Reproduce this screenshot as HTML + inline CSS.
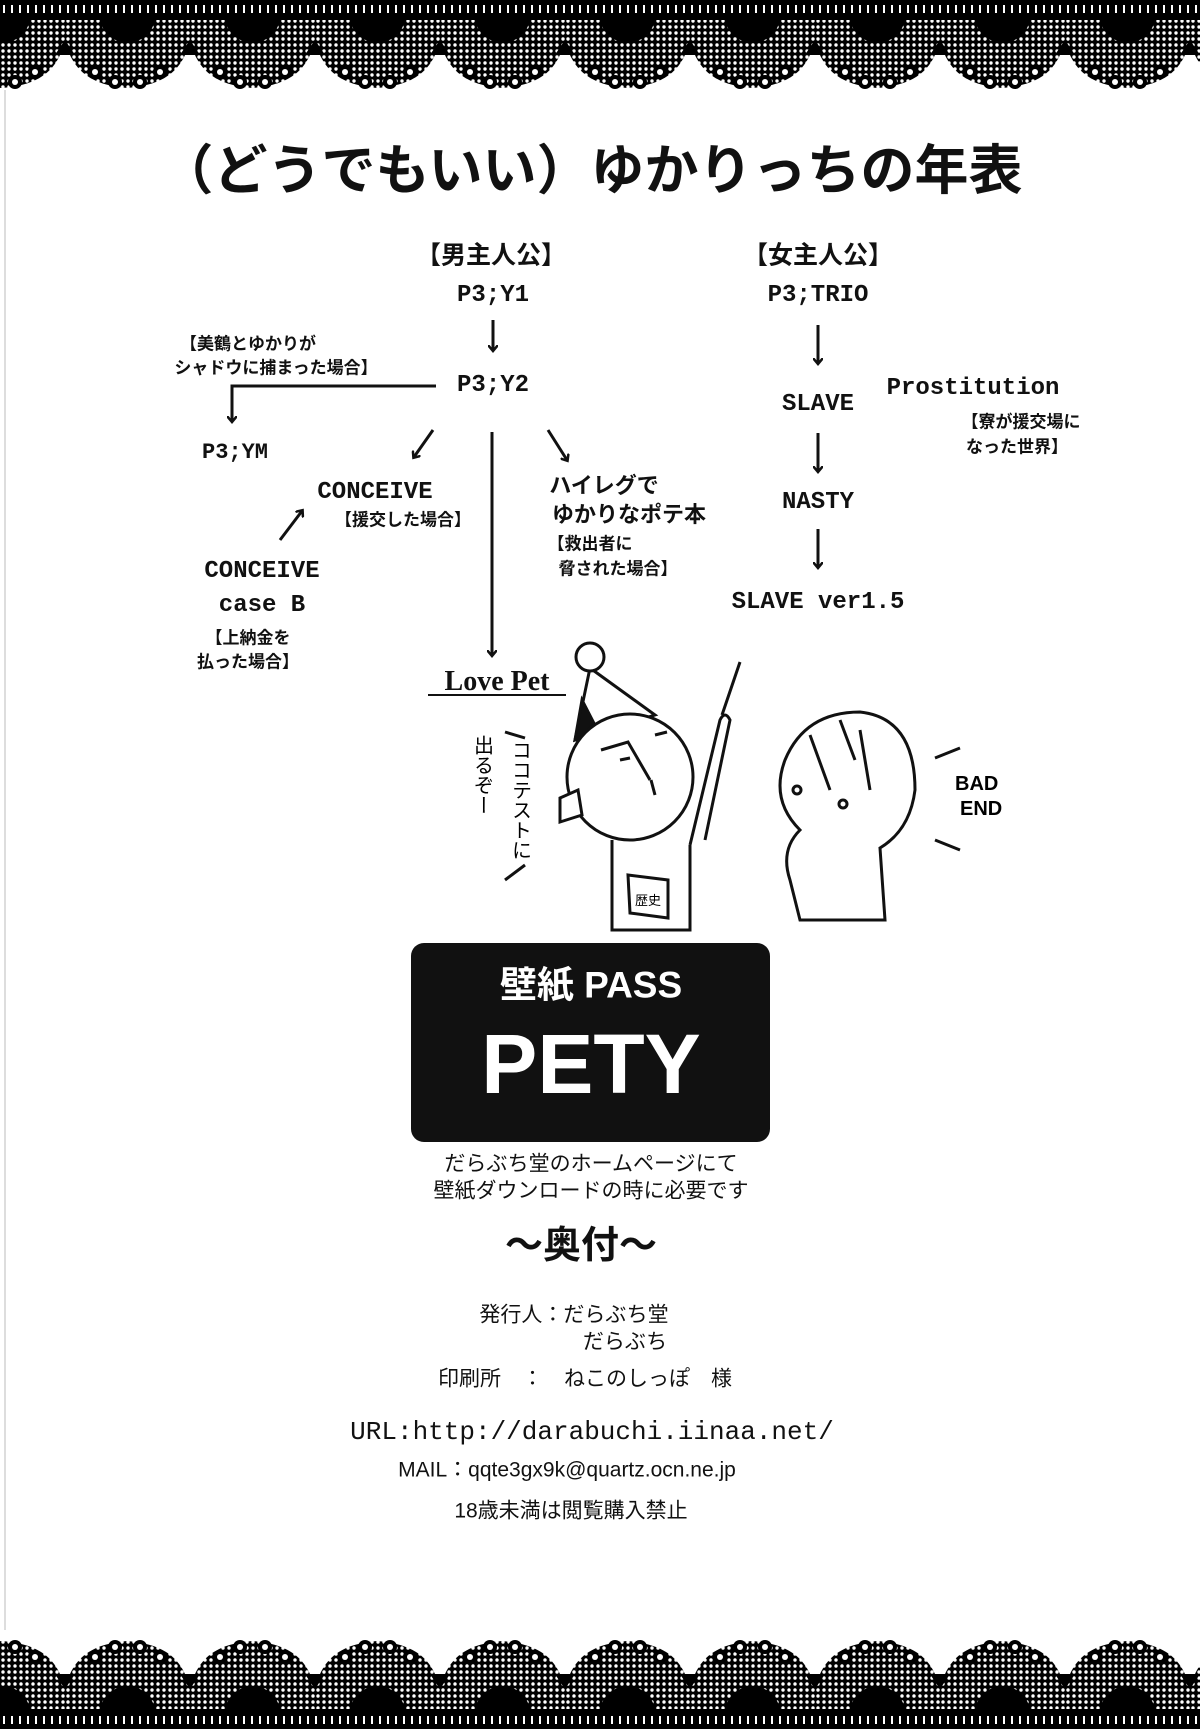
<!DOCTYPE html>
<html><head><meta charset="utf-8"><style>
body{margin:0;width:1200px;height:1729px;background:#fff;position:relative;overflow:hidden;font-family:"Liberation Serif","Noto Sans CJK JP",serif;color:#111}
.t{position:absolute;white-space:nowrap;transform:translate(-50%,-50%);line-height:1}
.b{font-weight:bold}
.s{font-family:"Liberation Sans","Noto Sans CJK JP",sans-serif}
svg{position:absolute;left:0;top:0}
</style></head><body>
<svg width="1200" height="1729" viewBox="0 0 1200 1729">
<defs>
<pattern id="dots" width="6" height="6" patternUnits="userSpaceOnUse"><rect width="6" height="6" fill="#000"/><circle cx="3" cy="3" r="1.7" fill="#fff"/></pattern>
<g id="sc">
<path d="M0,20 L125,20 L125,40 C118,70 100,85 62,88 C25,85 7,70 0,40 Z" fill="url(#dots)"/>
<path d="M35,20 A28,28 0 0 0 90,20 Z" fill="#000"/>
<circle cx="30" cy="72" r="7" fill="#000"/><circle cx="50" cy="82" r="7" fill="#000"/><circle cx="75" cy="82" r="7" fill="#000"/><circle cx="95" cy="72" r="7" fill="#000"/>
<circle cx="30" cy="72" r="3" fill="#fff"/><circle cx="50" cy="82" r="3" fill="#fff"/><circle cx="75" cy="82" r="3" fill="#fff"/><circle cx="95" cy="72" r="3" fill="#fff"/>
<path d="M0,40 L-10,55 L10,55 Z M125,40 L115,55 L135,55Z" fill="#000"/>
</g>
<pattern id="ticks" width="8" height="20" patternUnits="userSpaceOnUse"><rect width="8" height="20" fill="#000"/><rect x="3" y="5" width="2" height="8" fill="#fff"/></pattern>
<marker id="ah" markerWidth="10" markerHeight="10" refX="5" refY="5" orient="auto" markerUnits="userSpaceOnUse"><path d="M0,0 L6,5 L0,10" fill="none" stroke="#111" stroke-width="2.5"/></marker>
</defs>
<rect x="0" y="0" width="1200" height="20" fill="url(#ticks)"/>
<g><use href="#sc" x="-60"/><use href="#sc" x="65"/><use href="#sc" x="190"/><use href="#sc" x="315"/><use href="#sc" x="440"/><use href="#sc" x="565"/><use href="#sc" x="690"/><use href="#sc" x="815"/><use href="#sc" x="940"/><use href="#sc" x="1065"/><use href="#sc" x="1190"/></g>
<g transform="translate(0,1729) scale(1,-1)">
<rect x="0" y="0" width="1200" height="20" fill="url(#ticks)"/>
<use href="#sc" x="-60"/><use href="#sc" x="65"/><use href="#sc" x="190"/><use href="#sc" x="315"/><use href="#sc" x="440"/><use href="#sc" x="565"/><use href="#sc" x="690"/><use href="#sc" x="815"/><use href="#sc" x="940"/><use href="#sc" x="1065"/><use href="#sc" x="1190"/>
</g>
<line x1="5" y1="90" x2="5" y2="1630" stroke="#bbb" stroke-width="1"/>
<g stroke="#111" stroke-width="3" fill="none" marker-end="url(#ah)">
<line x1="493" y1="320" x2="493" y2="350"/>
<line x1="818" y1="325" x2="818" y2="363"/>
<line x1="818" y1="433" x2="818" y2="471"/>
<line x1="818" y1="529" x2="818" y2="567"/>
<path d="M436,386 L232,386 L232,421"/>
<line x1="433" y1="430" x2="414" y2="457"/>
<line x1="280" y1="540" x2="302" y2="511"/>
<line x1="492" y1="432" x2="492" y2="655"/>
<line x1="548" y1="430" x2="567" y2="460"/>
</g>
<line x1="428" y1="695" x2="566" y2="695" stroke="#111" stroke-width="2"/>
<g stroke="#111" stroke-width="3" fill="#fff">
<path d="M575,740 L590,668 L655,715 Z" fill="#fff"/>
<path d="M575,740 L582,700 L600,735Z" fill="#111"/>
<circle cx="590" cy="657" r="14"/>
<path d="M612,840 L612,930 L690,930 L690,845"/>
<path d="M690,845 L720,720 Q725,710 730,720 L705,840"/>
<line x1="722" y1="715" x2="740" y2="662"/>
<circle cx="630" cy="777" r="63"/>
<path d="M560,798 L578,790 L582,815 L560,822Z"/>
<path d="M628,875 L668,880 L668,918 L630,913Z"/>
<path d="M601,750 L628,742 L650,780 M620,760 L630,758 M655,735 L667,732 M651,780 L655,795" fill="none"/>
</g>
<text x="648" y="905" font-size="13" text-anchor="middle" font-family="Noto Sans CJK JP">歴史</text>
<g stroke="#111" stroke-width="3" fill="#fff">
<path d="M790,880 Q780,850 800,830 Q770,800 785,760 Q805,712 860,712 Q915,718 915,790 Q910,830 880,848 L885,920 L800,920 Z"/>
<circle cx="797" cy="790" r="4"/><circle cx="843" cy="804" r="4"/>
<path d="M810,735 L830,790 M860,730 L870,790 M840,720 L855,760" fill="none"/>
</g>
<g stroke="#111" stroke-width="3">
<line x1="505" y1="732" x2="525" y2="738"/><line x1="505" y1="880" x2="525" y2="865"/>
<line x1="935" y1="758" x2="960" y2="748"/><line x1="935" y1="840" x2="960" y2="850"/>
</g>
<text x="955" y="790" font-size="20" font-weight="bold" font-family="Liberation Sans">BAD</text>
<text x="960" y="815" font-size="20" font-weight="bold" font-family="Liberation Sans">END</text>
<text font-size="20" font-family="Noto Sans CJK JP" writing-mode="tb"><tspan x="522" y="740">ココテストに</tspan></text>
<text font-size="20" font-family="Noto Sans CJK JP" writing-mode="tb"><tspan x="484" y="735">出るぞー</tspan></text>
<rect x="411" y="943" width="359" height="199" rx="13" fill="#111"/>
</svg>
<div class="t b" style="left:591px;top:171px;font-size:54px;font-family:'Liberation Sans','Noto Sans CJK JP',sans-serif">（どうでもいい）ゆかりっちの年表</div>
<div class="t b" style="left:491px;top:256px;font-size:25px">【男主人公】</div>
<div class="t b" style="left:493px;top:296px;font-size:24px;font-family:'Liberation Mono',monospace">P3;Y1</div>
<div class="t b" style="left:493px;top:386px;font-size:24px;font-family:'Liberation Mono',monospace">P3;Y2</div>
<div class="t b" style="left:818px;top:256px;font-size:25px">【女主人公】</div>
<div class="t b" style="left:818px;top:296px;font-size:24px;font-family:'Liberation Mono',monospace">P3;TRIO</div>
<div class="t b" style="left:818px;top:405px;font-size:24px;font-family:'Liberation Mono',monospace">SLAVE</div>
<div class="t b" style="left:973px;top:389px;font-size:24px;font-family:'Liberation Mono',monospace">Prostitution</div>
<div class="t b" style="left:1021px;top:422px;font-size:17px">【寮が援交場に</div>
<div class="t b" style="left:1017px;top:447px;font-size:17px">なった世界】</div>
<div class="t b" style="left:818px;top:503px;font-size:24px;font-family:'Liberation Mono',monospace">NASTY</div>
<div class="t b" style="left:818px;top:603px;font-size:24px;font-family:'Liberation Mono',monospace">SLAVE ver1.5</div>
<div class="t b" style="left:248px;top:344px;font-size:17px">【美鶴とゆかりが</div>
<div class="t b" style="left:276px;top:368px;font-size:17px">シャドウに捕まった場合】</div>
<div class="t b" style="left:235px;top:453px;font-size:22px;font-family:'Liberation Mono',monospace">P3;YM</div>
<div class="t b" style="left:375px;top:493px;font-size:24px;font-family:'Liberation Mono',monospace">CONCEIVE</div>
<div class="t b" style="left:403px;top:520px;font-size:17px">【援交した場合】</div>
<div class="t b" style="left:262px;top:572px;font-size:24px;font-family:'Liberation Mono',monospace">CONCEIVE</div>
<div class="t b" style="left:262px;top:606px;font-size:24px;font-family:'Liberation Mono',monospace">case B</div>
<div class="t b" style="left:248px;top:638px;font-size:17px">【上納金を</div>
<div class="t b" style="left:248px;top:662px;font-size:17px">払った場合】</div>
<div class="t b" style="left:604px;top:486px;font-size:22px">ハイレグで</div>
<div class="t b" style="left:629px;top:515px;font-size:22px">ゆかりなポテ本</div>
<div class="t b" style="left:590px;top:544px;font-size:17px">【救出者に</div>
<div class="t b" style="left:618px;top:569px;font-size:17px">脅された場合】</div>
<div class="t b" style="left:497px;top:682px;font-size:28px">Love Pet</div>
<div class="t b s" style="left:591px;top:985px;font-size:37px;color:#fff">壁紙 PASS</div>
<div class="t b s" style="left:591px;top:1064px;font-size:84px;color:#fff">PETY</div>
<div class="t s" style="left:591px;top:1164px;font-size:21px">だらぶち堂のホームページにて</div>
<div class="t s" style="left:591px;top:1191px;font-size:21px">壁紙ダウンロードの時に必要です</div>
<div class="t b s" style="left:581px;top:1246px;font-size:38px">～奥付～</div>
<div class="t s" style="left:574px;top:1315px;font-size:21px">発行人：だらぶち堂</div>
<div class="t s" style="left:625px;top:1342px;font-size:21px">だらぶち</div>
<div class="t s" style="left:585px;top:1379px;font-size:21px">印刷所　：　ねこのしっぽ　様</div>
<div class="t" style="left:592px;top:1432px;font-size:26px;font-family:'Liberation Mono',monospace">URL:http://darabuchi.iinaa.net/</div>
<div class="t s" style="left:567px;top:1470px;font-size:21px">MAIL：qqte3gx9k@quartz.ocn.ne.jp</div>
<div class="t s" style="left:571px;top:1511px;font-size:21px">18歳未満は閲覧購入禁止</div>
</body></html>
